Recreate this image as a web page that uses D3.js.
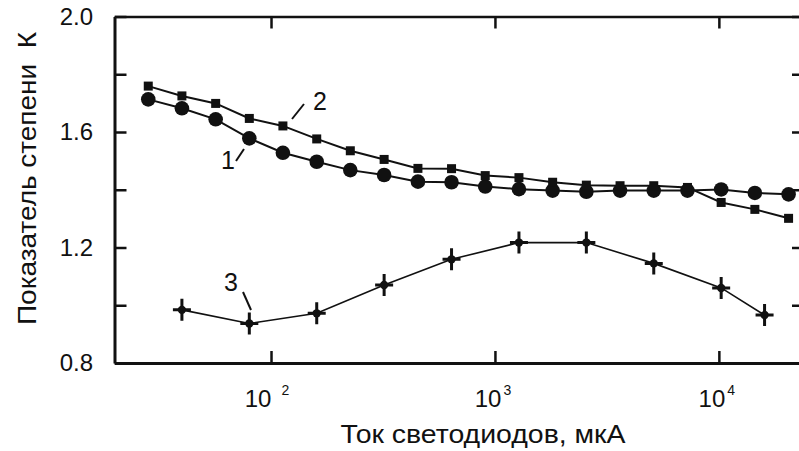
<!DOCTYPE html>
<html>
<head>
<meta charset="utf-8">
<script src="https://cdn.jsdelivr.net/npm/d3@7"></script>
<style>
  body { margin: 0; background: #fff; }
  svg text { font-family: "Liberation Sans", Arial, sans-serif; fill: #111; }
</style>
</head>
<body>
<svg id="chart" width="799" height="451"></svg>
<script>
// Current (uA) for curves 1 and 2
const currents12 = [28.3, 40, 56.6, 80, 113, 160, 226, 320, 453, 640,
    905, 1280, 1810, 2560, 3620, 5120, 7240, 10240, 14480, 20480];
// Curve 1 (circles)
const curve1 = [1.713, 1.682, 1.644, 1.578, 1.528, 1.497, 1.468, 1.451, 1.428, 1.426,
    1.411, 1.402, 1.397, 1.393, 1.397, 1.397, 1.397, 1.401, 1.389, 1.384];
// Curve 2 (squares)
const curve2 = [1.759, 1.725, 1.699, 1.647, 1.621, 1.576, 1.535, 1.505, 1.474, 1.473,
    1.449, 1.442, 1.426, 1.416, 1.414, 1.414, 1.408, 1.356, 1.332, 1.301];
// Curve 3 (crosses)
const currents3 = [40, 80, 160, 320, 640, 1280, 2560, 5120, 10240, 16000];
const curve3 = [0.984, 0.937, 0.972, 1.070, 1.159, 1.217, 1.217, 1.145, 1.060, 0.966];

const yTicks = [0.8, 1.0, 1.2, 1.4, 1.6, 1.8, 2.0];
const yLabelled = [0.8, 1.2, 1.6, 2.0];
const xTicks = [100, 1000, 10000];
const xExponents = ["2", "3", "4"];

const svg = d3.select('#chart');
const ink = '#111';

const x = d3.scaleLog().domain([20, 24000]).range([114.5, 804]);
const y = d3.scaleLinear().domain([0.8, 2.0]).range([363, 16.5]);

// Frame with inward ticks
function styleAxis(g, width) {
    g.select('.domain').attr('stroke', ink).attr('stroke-width', width);
    g.selectAll('.tick line').attr('stroke', ink).attr('stroke-width', 2.5);
}

svg.append('g')
    .attr('transform', `translate(${x.range()[0]},0)`)
    .call(d3.axisLeft(y).tickValues(yTicks).tickSizeInner(-12).tickSizeOuter(0)
        .tickPadding(21.5)
        .tickFormat(d => yLabelled.some(v => Math.abs(v - d) < 1e-6) ? d.toFixed(1) : ''))
    .call(g => styleAxis(g, 3))
    .call(g => g.selectAll('.tick text').attr('font-size', 24).attr('fill', ink));

svg.append('g')
    .attr('transform', `translate(${x.range()[1]},0)`)
    .call(d3.axisRight(y).tickValues(yTicks).tickSizeInner(-12).tickSizeOuter(0).tickFormat(''))
    .call(g => styleAxis(g, 3));

svg.append('g')
    .attr('transform', `translate(0,${y.range()[0]})`)
    .call(d3.axisBottom(x).tickValues(xTicks).tickSizeInner(-12).tickSizeOuter(0).tickFormat(''))
    .call(g => styleAxis(g, 3));

svg.append('g')
    .attr('transform', `translate(0,${y.range()[1]})`)
    .call(d3.axisTop(x).tickValues(xTicks).tickSizeInner(-12).tickSizeOuter(0).tickFormat(''))
    .call(g => styleAxis(g, 2.5));

// Decade labels 10^n
const xLab = svg.append('g').selectAll('text')
    .data(xTicks)
    .enter().append('text')
    .attr('x', (d, i) => x(d) - (i === 0 ? 4 : 2))
    .attr('y', 407)
    .attr('text-anchor', 'middle')
    .attr('font-size', 24);
xLab.append('tspan').text('10');
xLab.append('tspan')
    .attr('font-size', 14)
    .attr('dx', (d, i) => i === 0 ? 10 : 2)
    .attr('dy', -12)
    .text((d, i) => xExponents[i]);

// Axis titles
svg.append('text')
    .attr('x', 483).attr('y', 443)
    .attr('text-anchor', 'middle')
    .attr('font-size', 25)
    .attr('textLength', 285)
    .attr('lengthAdjust', 'spacingAndGlyphs')
    .text('Ток светодиодов, мкА');

svg.append('text')
    .attr('transform', 'translate(36,178.5) rotate(-90)')
    .attr('text-anchor', 'middle')
    .attr('font-size', 25)
    .attr('textLength', 293)
    .attr('lengthAdjust', 'spacingAndGlyphs')
    .style('white-space', 'pre')
    .text('Показатель степени  К');

// Curves
const line = d3.line().x(d => x(d[0])).y(d => y(d[1]));
const pts1 = currents12.map((c, i) => [c, curve1[i]]);
const pts2 = currents12.map((c, i) => [c, curve2[i]]);
const pts3 = currents3.map((c, i) => [c, curve3[i]]);

[[pts1, 2], [pts2, 2], [pts3, 1.6]].forEach(([pts, w]) => {
    svg.append('path')
        .datum(pts)
        .attr('d', line)
        .attr('fill', 'none')
        .attr('stroke', ink)
        .attr('stroke-width', w);
});

svg.append('g').selectAll('circle')
    .data(pts1)
    .enter().append('circle')
    .attr('cx', d => x(d[0]))
    .attr('cy', d => y(d[1]))
    .attr('r', 7.3)
    .attr('fill', ink);

svg.append('g').selectAll('rect')
    .data(pts2)
    .enter().append('rect')
    .attr('x', d => x(d[0]) - 4.5)
    .attr('y', d => y(d[1]) - 4.5)
    .attr('width', 9)
    .attr('height', 9)
    .attr('fill', ink);

const crosses = svg.append('g').selectAll('g')
    .data(pts3)
    .enter().append('g')
    .attr('transform', d => `translate(${x(d[0])},${y(d[1])})`);
crosses.append('path')
    .attr('d', 'M0,-11V11M-9,0H9')
    .attr('stroke', ink)
    .attr('stroke-width', 3);
crosses.append('circle').attr('r', 4.2).attr('fill', ink);

// Curve labels with leader strokes
const notes = [
    { t: '1', x: 228, y: 169, x1: 236, y1: 161, x2: 244, y2: 149 },
    { t: '2', x: 320, y: 110, x1: 292, y1: 119, x2: 304, y2: 104 },
    { t: '3', x: 231, y: 291, x1: 243, y1: 292, x2: 251, y2: 310 }
];
notes.forEach(n => {
    svg.append('text')
        .attr('x', n.x).attr('y', n.y)
        .attr('text-anchor', 'middle')
        .attr('font-size', 25)
        .text(n.t);
    svg.append('line')
        .attr('x1', n.x1).attr('y1', n.y1)
        .attr('x2', n.x2).attr('y2', n.y2)
        .attr('stroke', ink)
        .attr('stroke-width', 2);
});
</script>
</body>
</html>
